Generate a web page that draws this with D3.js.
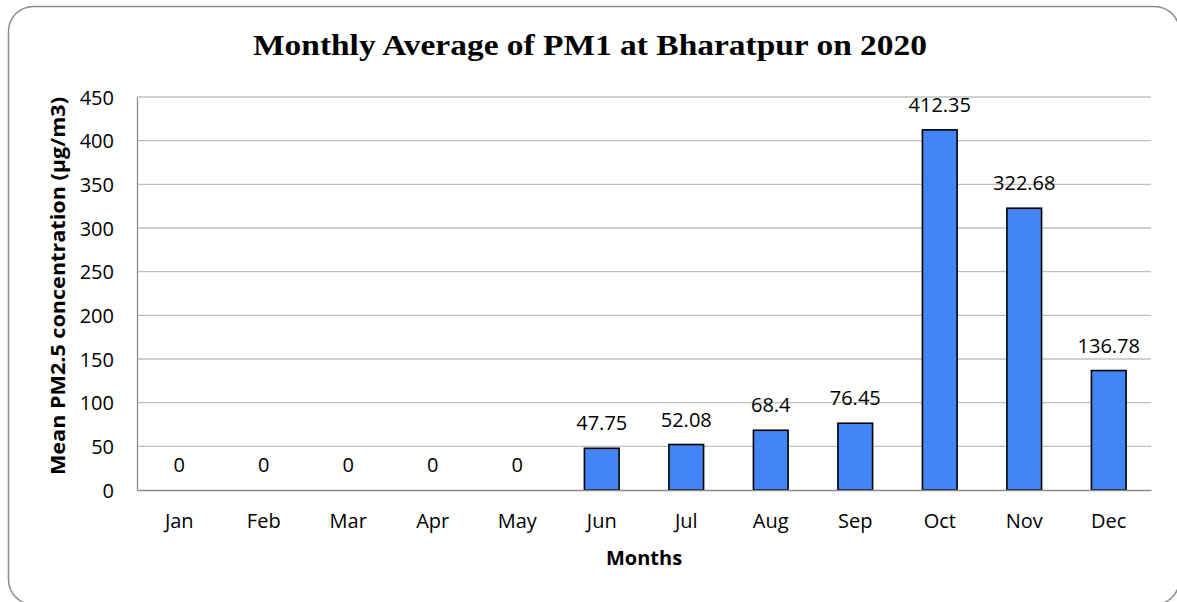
<!DOCTYPE html>
<html>
<head>
<meta charset="utf-8">
<script src="https://cdn.jsdelivr.net/npm/d3@7"></script>
<style>
  body { margin: 0; background: #fff; overflow: hidden; }
  text { font-family: "Open Sans", "Liberation Sans", Arial, sans-serif; fill: #000; }
</style>
</head>
<body>
<div id="chart"></div>
<script>
// monthly PM values
var months = ["Jan", "Feb", "Mar", "Apr", "May", "Jun", "Jul", "Aug", "Sep", "Oct", "Nov", "Dec"];
var pmValues = [0, 0, 0, 0, 0, 47.75, 52.08, 68.4, 76.45, 412.35, 322.68, 136.78];
var yTicks = [0, 50, 100, 150, 200, 250, 300, 350, 400, 450];

var W = 1177, H = 602;
var margin = {top: 97, right: 26, bottom: 112, left: 137};
var width = W - margin.left - margin.right,
    height = H - margin.top - margin.bottom;

var svg = d3.select("#chart").append("svg")
    .attr("width", W)
    .attr("height", H)
    .style("display", "block");

// outer frame (runs a bit past the right and bottom edges)
svg.append("rect")
    .attr("x", 8.5).attr("y", 6.5)
    .attr("width", 1171).attr("height", 598)
    .attr("rx", 25).attr("ry", 25)
    .attr("fill", "#fff")
    .attr("stroke", "#8c8c8c")
    .attr("stroke-width", 1.5);

var g = svg.append("g").attr("transform", "translate(" + margin.left + "," + margin.top + ")");

var x = d3.scaleBand().domain(months).range([0, width]).paddingInner(0.59).paddingOuter(0.295);
var y = d3.scaleLinear().domain([0, 450]).range([height, 0]);

// gridlines
g.append("g")
    .selectAll("line")
    .data(yTicks.slice(1))
    .enter().append("line")
    .attr("x1", 0).attr("x2", width)
    .attr("y1", function(d){ return y(d); })
    .attr("y2", function(d){ return y(d); })
    .attr("stroke", "#bfbfbf")
    .attr("stroke-width", 1.3);

// left axis
var yAxis = d3.axisLeft(y).tickValues(yTicks).tickSize(0).tickPadding(23);
var ya = g.append("g").attr("class", "y axis").call(yAxis);
ya.select(".domain").attr("stroke", "#8c8c8c").attr("stroke-width", 1.3);
ya.selectAll("text").style("font-size", "20px").style("font-family", null).attr("dy", "0.36em");

// bars
g.selectAll(".bar")
    .data(pmValues)
    .enter().append("rect")
    .attr("class", "bar")
    .attr("x", function(d, i){ return x(months[i]); })
    .attr("y", function(d){ return y(d); })
    .attr("width", x.bandwidth())
    .attr("height", function(d){ return height - y(d); })
    .attr("fill", "#4285f4")
    .attr("stroke", "#000")
    .attr("stroke-width", function(d){ return d > 0 ? 1.6 : 0; });

// bottom axis
var xAxis = d3.axisBottom(x).tickSize(0).tickPadding(24);
var xa = g.append("g").attr("class", "xAxis")
    .attr("transform", "translate(0," + height + ")")
    .call(xAxis);
xa.select(".domain").attr("stroke", "#8c8c8c").attr("stroke-width", 1.5);
xa.selectAll("text").style("font-size", "20px").style("font-family", null);

// value labels
g.selectAll(".val")
    .data(pmValues)
    .enter().append("text")
    .attr("class", "val")
    .attr("x", function(d, i){ return x(months[i]) + x.bandwidth() / 2; })
    .attr("y", function(d){ return y(d) - 18; })
    .attr("text-anchor", "middle")
    .style("font-size", "20px")
    .text(function(d){ return d; });

// titles
svg.append("text")
    .attr("x", 253).attr("y", 55)
    .attr("textLength", 674)
    .attr("lengthAdjust", "spacingAndGlyphs")
    .style("font-family", "'Liberation Serif', 'DejaVu Serif', serif")
    .style("font-weight", "bold")
    .style("font-size", "30px")
    .text("Monthly Average of PM1 at Bharatpur on 2020");

svg.append("text")
    .attr("transform", "translate(65,286) rotate(-90)")
    .attr("text-anchor", "middle")
    .attr("textLength", 378)
    .attr("lengthAdjust", "spacingAndGlyphs")
    .style("font-weight", "bold")
    .style("font-size", "20px")
    .text("Mean PM2.5 concentration (µg/m3)");

svg.append("text")
    .attr("x", 644).attr("y", 565)
    .attr("text-anchor", "middle")
    .style("font-weight", "bold")
    .style("font-size", "20px")
    .text("Months");
</script>
</body>
</html>
